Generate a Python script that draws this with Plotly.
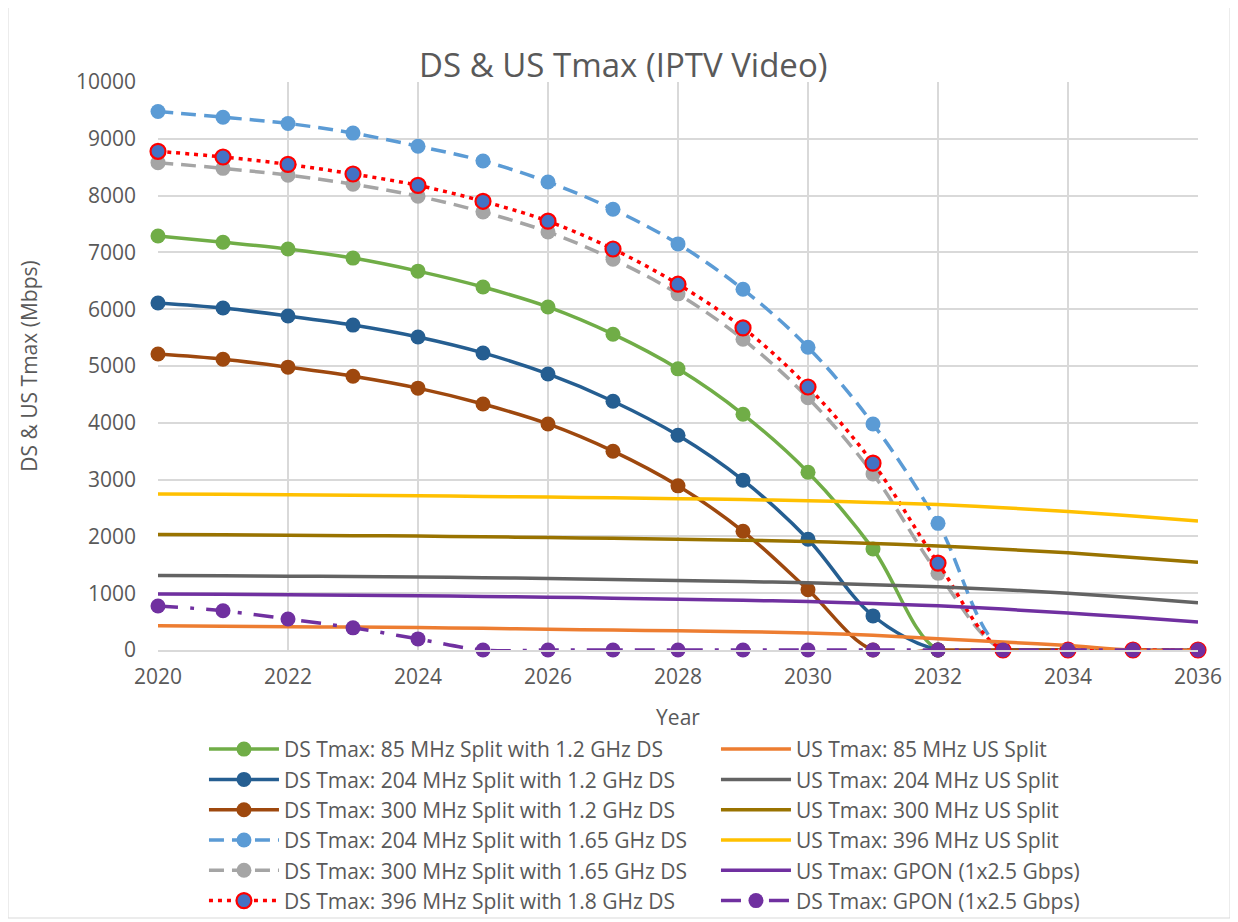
import plotly.graph_objects as go

years = list(range(2020, 2037))

ds_85_12 = [7290, 7180, 7060, 6900, 6670, 6390, 6040, 5560, 4950, 4150, 3130, 1780, 0, 0, 0, 0, 0]
ds_204_12 = [6110, 6020, 5880, 5720, 5510, 5230, 4860, 4380, 3780, 2990, 1950, 600, 0, 0, 0, 0, 0]
ds_300_12 = [5210, 5120, 4980, 4820, 4610, 4330, 3980, 3500, 2890, 2090, 1060, 0, 0, 0, 0, 0, 0]
ds_204_165 = [9480, 9380, 9270, 9100, 8870, 8610, 8240, 7760, 7150, 6350, 5330, 3980, 2230, 0, 0, 0, 0]
ds_300_165 = [8580, 8480, 8360, 8200, 7990, 7710, 7360, 6880, 6270, 5470, 4440, 3100, 1350, 0, 0, 0, 0]
ds_396_18 = [8780, 8680, 8550, 8380, 8180, 7900, 7550, 7060, 6440, 5670, 4630, 3290, 1530, 0, 0, 0, 0]
us_85 = [425, 418, 410, 403, 395, 382, 365, 352, 338, 322, 300, 258, 200, 140, 80, 0, 0]
us_204 = [1312, 1306, 1300, 1293, 1285, 1273, 1260, 1243, 1225, 1205, 1182, 1150, 1112, 1060, 1000, 920, 830]
us_300 = [2035, 2028, 2020, 2013, 2005, 1993, 1980, 1966, 1950, 1932, 1910, 1875, 1830, 1775, 1710, 1630, 1545]
us_396 = [2748, 2740, 2732, 2724, 2715, 2703, 2692, 2679, 2665, 2648, 2628, 2598, 2560, 2505, 2440, 2360, 2270]
us_gpon = [985, 980, 972, 963, 955, 943, 930, 913, 895, 875, 852, 818, 778, 720, 650, 575, 495]
ds_gpon = [775, 690, 545, 390, 195, 0, 0, 0, 0, 0, 0, 0, 0, 0, 0, 0, 0]

names = [
    "DS Tmax: 85 MHz Split with 1.2 GHz DS",
    "DS Tmax: 204 MHz Split with 1.2 GHz DS",
    "DS Tmax: 300 MHz Split with 1.2 GHz DS",
    "DS Tmax: 204 MHz Split with 1.65 GHz DS",
    "DS Tmax: 300 MHz Split with 1.65 GHz DS",
    "DS Tmax: 396 MHz Split with 1.8 GHz DS",
    "US Tmax: 85 MHz US Split",
    "US Tmax: 204 MHz US Split",
    "US Tmax: 300 MHz US Split",
    "US Tmax: 396 MHz US Split",
    "US Tmax: GPON (1x2.5 Gbps)",
    "DS Tmax: GPON (1x2.5 Gbps)",
]

FONT = "Open Sans"
GRAY = "#595959"
GRID = "#D9D9D9"

fig = go.Figure()

def add(y, name, color, rank, dash="solid", marker=True, mfill=None, mline=None):
    mode = "lines+markers" if marker else "lines"
    mk = dict(size=15, color=mfill or color)
    if mline:
        mk["line"] = dict(color=mline, width=2.2)
    fig.add_trace(go.Scatter(
        x=years, y=y, name=name, mode=mode,
        line=dict(color=color, width=3.5, shape="spline", smoothing=1, dash=dash),
        marker=mk, legendrank=rank, cliponaxis=False,
    ))

add(ds_85_12, names[0], "#70AD47", 1)
add(ds_204_12, names[1], "#255E91", 3)
add(ds_300_12, names[2], "#9E480E", 5)
add(ds_204_165, names[3], "#5B9BD5", 7, dash="15px,8px")
add(ds_300_165, names[4], "#A5A5A5", 9, dash="15px,8px")
add(ds_396_18, names[5], "#FF0000", 11, dash="4px,5px", mfill="#4472C4", mline="#FF0000")
add(us_85, names[6], "#ED7D31", 2, marker=False)
add(us_204, names[7], "#636363", 4, marker=False)
add(us_300, names[8], "#997300", 6, marker=False)
add(us_396, names[9], "#FFC000", 8, marker=False)
add(us_gpon, names[10], "#7030A0", 10, marker=False)
add(ds_gpon, names[11], "#7030A0", 12, dash="20px,12px,4px,12px")

PW, PH = 1040, 568

fig.update_layout(
    width=1238, height=922,
    paper_bgcolor="white", plot_bgcolor="white",
    margin=dict(l=150, r=48, t=74, b=280, autoexpand=False),
    font=dict(family=FONT, size=21, color=GRAY),
    title=dict(text="DS & US Tmax (IPTV Video)", x=0.497, xanchor="center",
               y=(922 - 57) / 922, yanchor="middle",
               font=dict(size=33, color=GRAY, family=FONT)),
    xaxis=dict(range=[2020, 2036], dtick=2, tick0=2020, showgrid=True,
               gridcolor=GRID, gridwidth=1.5, zeroline=False,
               showline=True, linecolor=GRID, linewidth=1.5,
               ticks="", tickfont=dict(size=21, color=GRAY), ticklabelstandoff=7,
               title=dict(text="Year", font=dict(size=21, color=GRAY), standoff=21)),
    yaxis=dict(range=[0, 10000], dtick=1000, tickformat="d", showgrid=True,
               gridcolor=GRID, gridwidth=1.5, zeroline=False,
               showline=False, ticks="", tickfont=dict(size=21, color=GRAY),
               ticklabelstandoff=21,
               title=dict(text="DS & US Tmax (Mbps)", font=dict(size=21, color=GRAY), standoff=32)),
    legend=dict(orientation="h", x=0.0442, xanchor="left", y=-0.139, yanchor="top",
                entrywidth=427, entrywidthmode="pixels", itemwidth=70,
                tracegroupgap=0, font=dict(size=21, color=GRAY), bgcolor="rgba(0,0,0,0)"),
    showlegend=True,
)

fig.add_shape(type="rect", xref="paper", yref="paper",
              x0=(8 - 158) / PW, x1=(1230 - 158) / PW,
              y0=(650 - 918) / PH, y1=(650 - 5) / PH,
              line=dict(color=GRID, width=1), fillcolor="rgba(0,0,0,0)", layer="below")

fig.write_html("out.html")
